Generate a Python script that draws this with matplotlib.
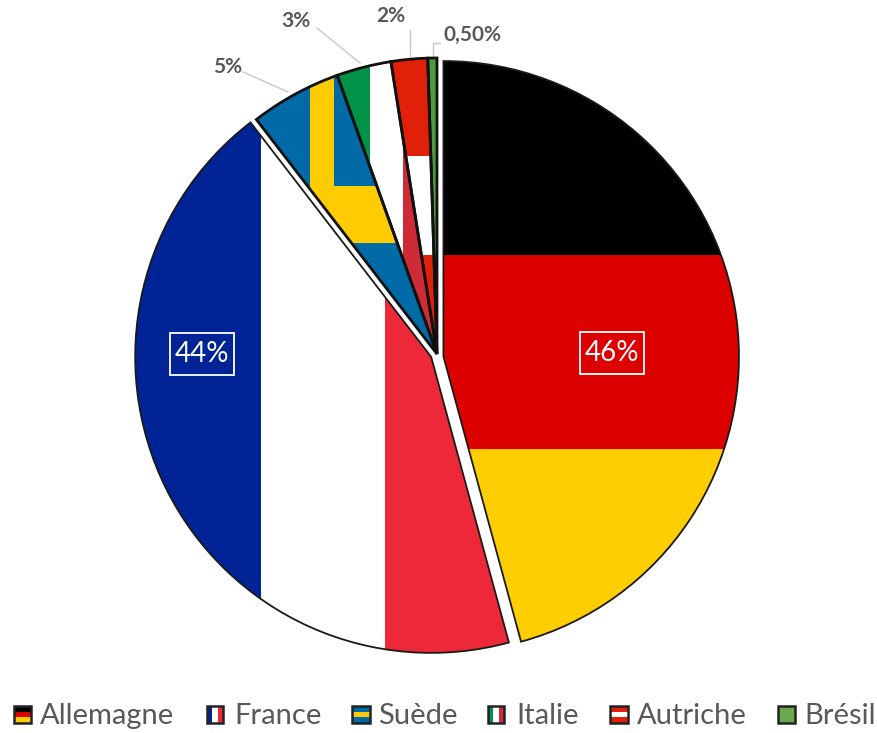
import matplotlib
matplotlib.use('Agg')
import matplotlib.pyplot as plt
from matplotlib.patches import Rectangle

W, H = 877, 733

countries = ['Allemagne', 'France', 'Suède', 'Italie', 'Autriche', 'Brésil']
shares = [46, 44, 5, 3, 2, 0.5]
share_labels = ['46%', '44%', '5%', '3%', '2%', '0,50%']
explode = [6.5, 6.5, 0, 0, 0, 0]

BLACK = '#000000'
DE_RED = '#dd0000'
DE_GOLD = '#ffce00'
FR_BLUE = '#002395'
FR_RED = '#ed2939'
SE_BLUE = '#006aa7'
SE_GOLD = '#fecc00'
IT_GREEN = '#009246'
IT_RED = '#ce2b37'
AT_RED = '#e1200a'
BR_GREEN = '#4f9a3d'
GREY = '#595959'

plt.rcParams['font.family'] = ['Lato', 'DejaVu Sans']


def py(y):
    # everything below is placed in screen pixels, y going down
    return H - y


fig = plt.figure(figsize=(W / 100, H / 100), dpi=100)
ax = fig.add_axes([0, 0, 1, 1])

wedges, _ = ax.pie(shares, explode=explode, center=(437, py(354)), radius=296,
                   startangle=90, counterclock=False, frame=True,
                   colors=['none'] * len(shares),
                   wedgeprops={'edgecolor': '#1a1a1a', 'linewidth': 1.3, 'zorder': 3})
for w in wedges[2:]:
    w.set_linewidth(2.0)
    w.set_edgecolor('#111111')

# the largest slice sits a little lower than the exploded position
cx, cy = wedges[0].center
wedges[0].set_center((cx, cy - 3.4))
wedges[0].set_radius(295.5)

ax.set_xlim(0, W)
ax.set_ylim(0, H)
ax.set_aspect('auto')
ax.axis('off')


def stripe(wedge, x0, x1, y0, y1, color):
    r = Rectangle((x0, py(y1)), x1 - x0, y1 - y0, facecolor=color, edgecolor='none', zorder=2)
    ax.add_patch(r)
    r.set_clip_path(wedge)


# flags inside the slices
de, fr, se, it, at, br = wedges

stripe(de, 430, 760, 40, 255, BLACK)
stripe(de, 430, 760, 255, 449, DE_RED)
stripe(de, 430, 760, 449, 660, DE_GOLD)

stripe(fr, 120, 261, 100, 670, FR_BLUE)
stripe(fr, 261, 385, 100, 670, 'white')
stripe(fr, 385, 530, 100, 670, FR_RED)

stripe(se, 240, 450, 60, 360, SE_BLUE)
stripe(se, 310, 334, 60, 243, SE_GOLD)
stripe(se, 310, 450, 186, 243, SE_GOLD)

stripe(it, 320, 370, 50, 360, IT_GREEN)
stripe(it, 370, 403, 50, 360, 'white')
stripe(it, 403, 450, 50, 360, IT_RED)

stripe(at, 385, 445, 40, 156, AT_RED)
stripe(at, 385, 445, 156, 255, 'white')
stripe(at, 385, 445, 255, 360, AT_RED)

stripe(br, 420, 445, 40, 360, BR_GREEN)

# large slices carry a boxed percentage
for label, x, y in [(share_labels[0], 612, 353), (share_labels[1], 202, 354)]:
    ax.text(x, py(y), label, color='white', fontsize=20, ha='center', va='center', zorder=5)
    ax.add_patch(Rectangle((x - 32, py(y + 21)), 64, 42, facecolor='none',
                           edgecolor='white', linewidth=1.3, zorder=5))

# small slices get a leader line
leaders = [
    (share_labels[2], 228, 67, [(243, 72), (288, 92)]),
    (share_labels[3], 296, 21, [(317, 28), (360, 63)]),
    (share_labels[4], 391, 16, [(410, 30), (410, 56)]),
    (share_labels[5], 473, 35, [(440, 43), (433, 43), (433, 56)]),
]
for label, x, y, pts in leaders:
    ax.text(x, py(y), label, color=GREY, fontsize=15, fontweight='bold', ha='center', va='center')
    ax.plot([p[0] for p in pts], [py(p[1]) for p in pts], color='#c8c8c8', lw=1, zorder=1)

# legend: tiny flags followed by the country name
swatch_x = [14, 207, 352, 488, 610, 778]
text_x = [40, 234, 378, 516, 637, 804]
swatch_w = [17, 16, 18, 16, 18, 17]
sy0, sy1 = 706, 723


def swatch(x, w, bands, vertical):
    n = len(bands)
    for i, c in enumerate(bands):
        if vertical:
            ax.add_patch(Rectangle((x + w * i / n, py(sy1)), w / n, sy1 - sy0, facecolor=c, edgecolor='none', zorder=2))
        else:
            y = sy0 + (sy1 - sy0) * i / n
            ax.add_patch(Rectangle((x, py(y + (sy1 - sy0) / n)), w, (sy1 - sy0) / n, facecolor=c, edgecolor='none', zorder=2))
    ax.add_patch(Rectangle((x, py(sy1)), w, sy1 - sy0, facecolor='none', edgecolor='#222222', linewidth=1.8, zorder=3))


swatch(swatch_x[0], swatch_w[0], [BLACK, DE_RED, DE_GOLD], False)
swatch(swatch_x[1], swatch_w[1], [FR_BLUE, 'white', FR_RED], True)
swatch(swatch_x[2], swatch_w[2], [SE_BLUE, SE_GOLD, SE_BLUE], False)
swatch(swatch_x[3], swatch_w[3], [IT_GREEN, 'white', IT_RED], True)
swatch(swatch_x[4], swatch_w[4], [AT_RED, 'white', AT_RED], False)
swatch(swatch_x[5], swatch_w[5], ['#6aa84f'], False)

for name, x in zip(countries, text_x):
    ax.text(x, py(716), name, color=GREY, fontsize=21, ha='left', va='center')

fig.savefig('out.png', dpi=100)
